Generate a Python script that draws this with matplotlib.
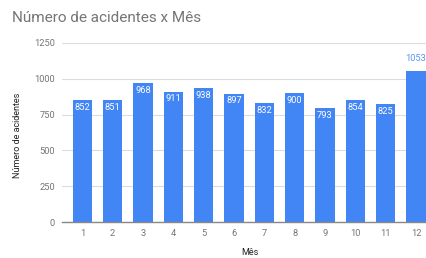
import matplotlib
matplotlib.use('Agg')
import matplotlib.pyplot as plt

months = [1, 2, 3, 4, 5, 6, 7, 8, 9, 10, 11, 12]
accidents = [852, 851, 968, 911, 938, 897, 832, 900, 793, 854, 825, 1053]
yticks = [0, 250, 500, 750, 1000, 1250]

BLUE = '#4285F4'
GRAY = '#757575'

plt.rcParams['font.family'] = ['Roboto', 'DejaVu Sans']

fig = plt.figure(figsize=(4.27, 2.58), dpi=100)
ax = fig.add_axes([62 / 427, 1 - 222 / 258, (427 - 62) / 427, (222 - 43) / 258])

bars = ax.bar(months, accidents, width=0.64, color=BLUE, zorder=2)

ax.set_xlim(0.33, 12.36)
ax.set_ylim(0, 1250)
ax.set_yticks(yticks)
ax.set_xticks(months)
ax.grid(axis='y', color='#dcdcdc', linewidth=0.8, zorder=0)
for s in ['top', 'right', 'left']:
    ax.spines[s].set_visible(False)
ax.spines['bottom'].set_color('#888888')
ax.spines['bottom'].set_linewidth(1.0)
ax.tick_params(length=0, labelsize=6.7, colors=GRAY, pad=5)

# value labels
for m, v in zip(months, accidents):
    if v > 1000:
        ax.text(m, v + 60, str(v), ha='center', va='bottom', fontsize=6.7, color='#5b95f5')
    else:
        ax.text(m, v - 20, str(v), ha='center', va='top', fontsize=6.7, color='white')

fig.text(12 / 427, 1 - 18 / 258, 'Número de acidentes x Mês', fontsize=11,
         color=GRAY, va='center', ha='left')
fig.text(18 / 427, 1 - 135 / 258, 'Número de acidentes', rotation=90, fontsize=6.5,
         color='#222222', va='center', ha='center')
fig.text(250 / 427, 1 / 258, 'Mês', fontsize=6.5, color='#222222',
         va='bottom', ha='center')

fig.savefig('out.png', dpi=100, facecolor='white')
